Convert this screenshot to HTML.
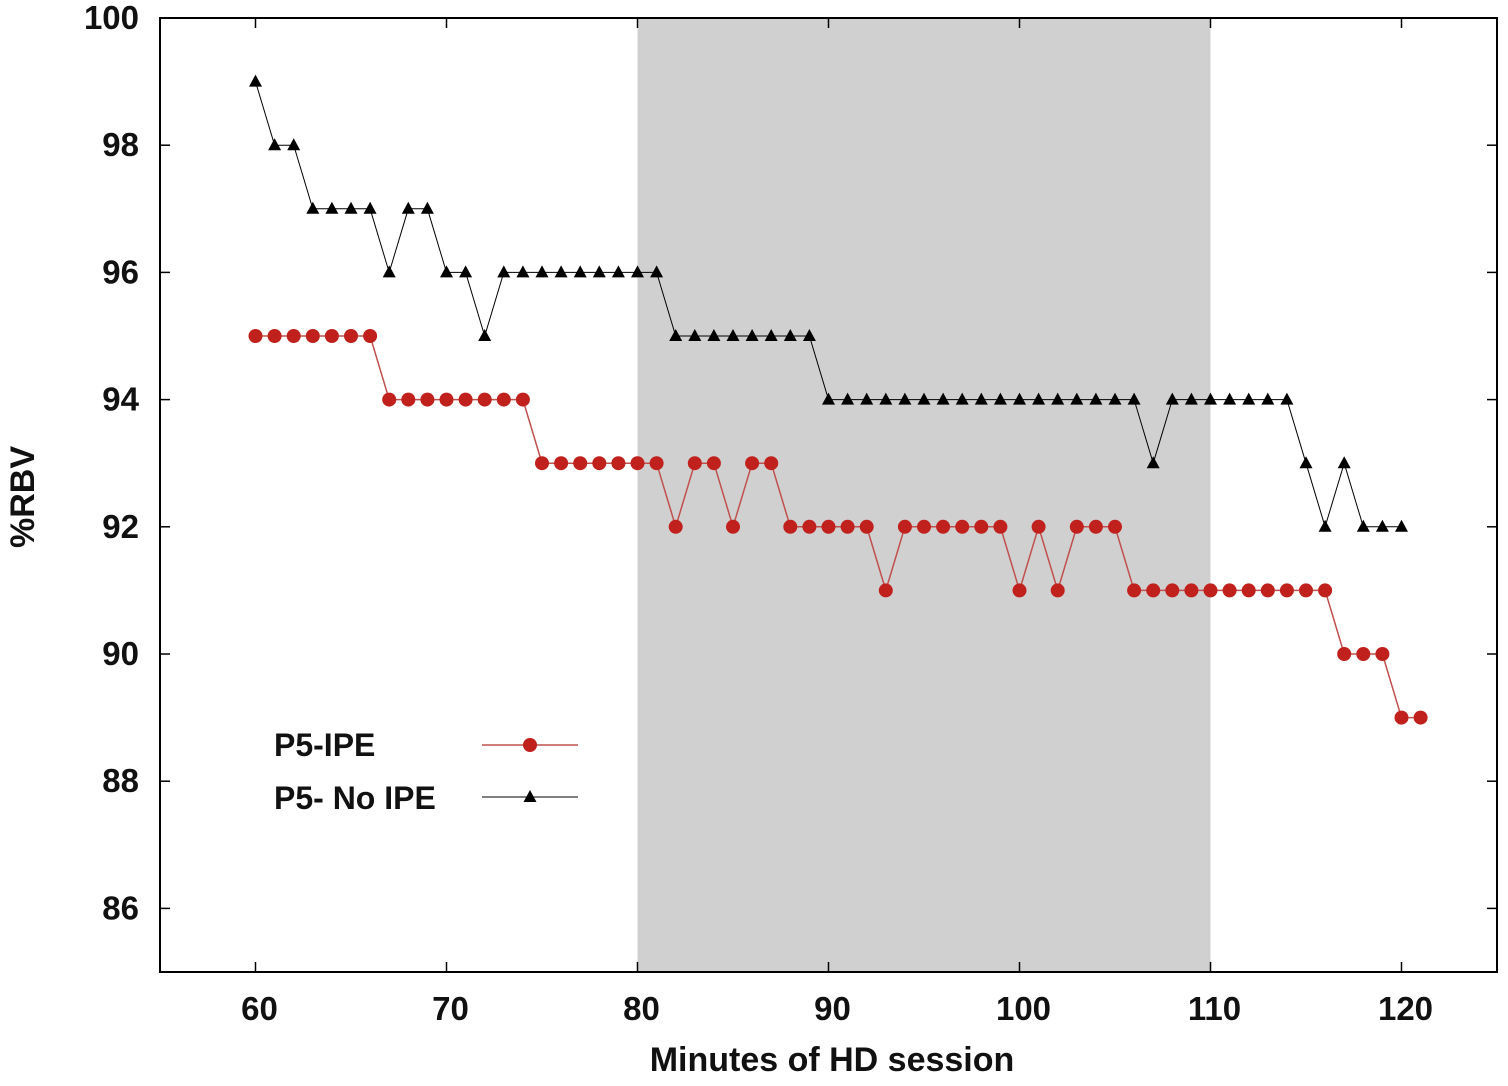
<!DOCTYPE html>
<html><head><meta charset="utf-8"><style>
body{margin:0;background:#fff}
svg text{font-family:"Liberation Sans",Arial,sans-serif;font-weight:bold;fill:#111}
</style></head><body>
<svg id="chart" width="1508" height="1081" xmlns="http://www.w3.org/2000/svg"></svg>
<script>
const xTicks=[60,70,80,90,100,110,120];
const yTicks=[86,88,90,92,94,96,98,100];
const shadeRange=[80,110];
const ipeMinutes=[60,61,62,63,64,65,66,67,68,69,70,71,72,73,74,75,76,77,78,79,80,81,82,83,84,85,86,87,88,89,90,91,92,93,94,95,96,97,98,99,100,101,102,103,104,105,106,107,108,109,110,111,112,113,114,115,116,117,118,119,120,121];
const ipeValues=[95,95,95,95,95,95,95,94,94,94,94,94,94,94,94,93,93,93,93,93,93,93,92,93,93,92,93,93,92,92,92,92,92,91,92,92,92,92,92,92,91,92,91,92,92,92,91,91,91,91,91,91,91,91,91,91,91,90,90,90,89,89];
const noIpeMinutes=[60,61,62,63,64,65,66,67,68,69,70,71,72,73,74,75,76,77,78,79,80,81,82,83,84,85,86,87,88,89,90,91,92,93,94,95,96,97,98,99,100,101,102,103,104,105,106,107,108,109,110,111,112,113,114,115,116,117,118,119,120];
const noIpeValues=[99,98,98,97,97,97,97,96,97,97,96,96,95,96,96,96,96,96,96,96,96,96,95,95,95,95,95,95,95,95,94,94,94,94,94,94,94,94,94,94,94,94,94,94,94,94,94,93,94,94,94,94,94,94,94,93,92,93,92,92,92];

const L=160,R=1497,T=18,B=972;
const xMin=55,xMax=125,yMin=85,yMax=100;
const sx=v=>L+(v-xMin)/(xMax-xMin)*(R-L);
const sy=v=>B-(v-yMin)/(yMax-yMin)*(B-T);
const svg=document.getElementById('chart');
const NS='http://www.w3.org/2000/svg';
function mk(tag,attrs,parent){const e=document.createElementNS(NS,tag);for(const k in attrs)e.setAttribute(k,attrs[k]);(parent||svg).appendChild(e);return e;}

let sh=mk('rect',{x:sx(shadeRange[0]),y:T,width:sx(shadeRange[1])-sx(shadeRange[0]),height:B-T,fill:'#d0d0d0'});



let xg=mk('g',{});


xTicks.forEach(t=>{
  mk('line',{x1:sx(t),x2:sx(t),y1:B,y2:B-10,stroke:'#000','stroke-width':1.5},xg);
  mk('line',{x1:sx(t),x2:sx(t),y1:T,y2:T+10,stroke:'#000','stroke-width':1.5},xg);
  const tx=mk('text',{x:sx(t)+4,y:1020,'font-size':33,'text-anchor':'middle'},xg);
  tx.textContent=t;
  
  
});
let yg=mk('g',{});


yTicks.forEach(t=>{
  mk('line',{x1:L,x2:L+10,y1:sy(t),y2:sy(t),stroke:'#000','stroke-width':1.5},yg);
  mk('line',{x1:R,x2:R-10,y1:sy(t),y2:sy(t),stroke:'#000','stroke-width':1.5},yg);
  const tx=mk('text',{x:139,y:sy(t)+11,'font-size':33,'text-anchor':'end'},yg);
  tx.textContent=t;
  
  
});
let fr=mk('rect',{x:L,y:T,width:R-L,height:B-T,fill:'none',stroke:'#000','stroke-width':2});



let xt=mk('text',{x:832,y:1071,'font-size':34,'text-anchor':'middle'});
xt.textContent='Minutes of HD session';


let yt=mk('text',{x:0,y:0,'font-size':34,'text-anchor':'middle',transform:'translate(34,497) rotate(-90)'});
yt.textContent='%RBV';



function tri(x,y,g){return mk('polygon',{points:`${x},${y-7} ${x-6.5},${y+5} ${x+6.5},${y+5}`,fill:'#000'},g);}

let rg=mk('g',{});


mk('polyline',{points:ipeMinutes.map((m,i)=>sx(m)+','+sy(ipeValues[i])).join(' '),fill:'none',stroke:'#c0504d','stroke-width':1.5},rg);
ipeMinutes.forEach((m,i)=>{
  const c=mk('circle',{cx:sx(m),cy:sy(ipeValues[i]),r:7,fill:'#c0211d'},rg);
  
  
});
let bg=mk('g',{});


mk('polyline',{points:noIpeMinutes.map((m,i)=>sx(m)+','+sy(noIpeValues[i])).join(' '),fill:'none',stroke:'#000','stroke-width':1},bg);
noIpeMinutes.forEach((m,i)=>{
  const p=tri(sx(m),sy(noIpeValues[i]),bg);
  
  
});

let lg=mk('g',{});


let l1=mk('text',{x:274,y:756,'font-size':32},lg);l1.textContent='P5-IPE';


mk('line',{x1:482,x2:578,y1:745,y2:745,stroke:'#c0504d','stroke-width':1.5},lg);
mk('circle',{cx:530,cy:745,r:7,fill:'#c0211d'},lg);
let l2=mk('text',{x:274,y:809,'font-size':32},lg);l2.textContent='P5- No IPE';


mk('line',{x1:482,x2:578,y1:797,y2:797,stroke:'#000','stroke-width':1},lg);
tri(530,797,lg);
</script>
</body></html>
